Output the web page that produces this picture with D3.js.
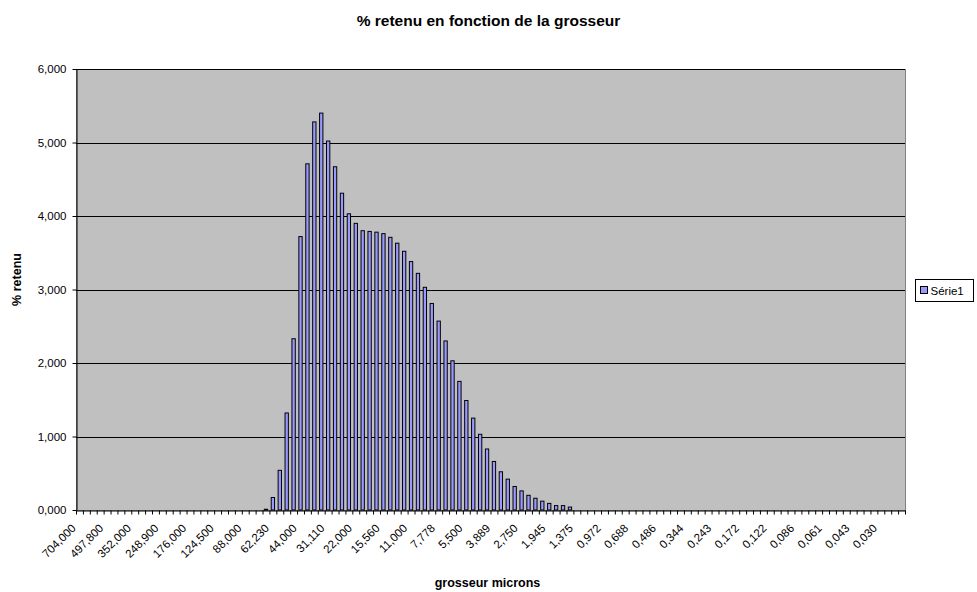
<!DOCTYPE html>
<html>
<head>
<meta charset="utf-8">
<script src="https://cdn.jsdelivr.net/npm/d3@7"></script>
<style>
  body { margin: 0; background: #fff; }
  svg { display: block; font-family: "Liberation Sans", Arial, sans-serif; }
</style>
</head>
<body>
<div id="chart"></div>
<script>
// grain sizes (microns), one per class
const sizes = [
  "704,000", "645,600", "592,000", "542,900", "497,800", "456,500", "418,600", "383,900",
  "352,000", "322,800", "296,000", "271,400", "248,900", "228,200", "209,300", "191,900",
  "176,000", "161,400", "148,000", "135,700", "124,500", "114,100", "104,700", "95,960",
  "88,000", "80,700", "74,000", "67,860", "62,230", "57,060", "52,330", "47,980",
  "44,000", "40,350", "37,000", "33,930", "31,110", "28,530", "26,160", "23,990",
  "22,000", "20,170", "18,500", "16,960", "15,560", "14,270", "13,080", "12,000",
  "11,000", "10,090", "9,250", "8,482", "7,778", "7,133", "6,541", "5,998",
  "5,500", "5,044", "4,625", "4,241", "3,889", "3,566", "3,270", "2,999",
  "2,750", "2,522", "2,312", "2,121", "1,945", "1,783", "1,635", "1,499",
  "1,375", "1,261", "1,156", "1,060", "0,972", "0,892", "0,818", "0,750",
  "0,688", "0,630", "0,578", "0,530", "0,486", "0,446", "0,409", "0,375",
  "0,344", "0,315", "0,289", "0,265", "0,243", "0,223", "0,204", "0,187",
  "0,172", "0,158", "0,145", "0,133", "0,122", "0,111", "0,102", "0,094",
  "0,086", "0,079", "0,072", "0,066", "0,061", "0,056", "0,051", "0,047",
  "0,043", "0,039", "0,036", "0,033", "0,030", "0,028", "0,026", "0,023"
];

// Série1 : % retenu
const retenu = [
  0, 0, 0, 0, 0, 0, 0, 0,
  0, 0, 0, 0, 0, 0, 0, 0,
  0, 0, 0, 0, 0, 0, 0, 0,
  0, 0, 0, 0.01, 0.17, 0.54, 1.32, 2.33,
  3.72, 4.71, 5.28, 5.40, 5.02, 4.67, 4.31, 4.03,
  3.90, 3.80, 3.79, 3.78, 3.76, 3.71, 3.63, 3.52,
  3.38, 3.22, 3.03, 2.81, 2.57, 2.30, 2.03, 1.75,
  1.49, 1.25, 1.03, 0.83, 0.66, 0.52, 0.42, 0.32,
  0.26, 0.20, 0.16, 0.12, 0.09, 0.06, 0.06, 0.04,
  0, 0, 0, 0, 0, 0, 0, 0,
  0, 0, 0, 0, 0, 0, 0, 0,
  0, 0, 0, 0, 0, 0, 0, 0,
  0, 0, 0, 0, 0, 0, 0, 0,
  0, 0, 0, 0, 0, 0, 0, 0,
  0, 0, 0, 0, 0, 0, 0, 0
];

const yTicks = [0, 1, 2, 3, 4, 5, 6];
const labelEvery = 4;

const w = 977, h = 592;
const m = {l: 76, r: 905, t: 69, b: 510};

const data = sizes.map((s, i) => ({size: s, value: retenu[i], i}));
const fmt = d => d3.format(".3f")(d).replace(".", ",");

const svg = d3.select("#chart").append("svg").attr("width", w).attr("height", h);

const x = d3.scaleBand()
  .domain(d3.range(sizes.length))
  .range([m.l, m.r])
  .paddingInner(0.52)
  .paddingOuter(0.26);
const xEdges = d3.scaleLinear().domain([0, sizes.length]).range([m.l, m.r]);
const y = d3.scaleLinear().domain([0, 6]).range([m.b, m.t]);

// plot area
svg.append("rect")
  .attr("x", m.l).attr("y", m.t)
  .attr("width", m.r - m.l).attr("height", m.b - m.t)
  .attr("fill", "#c0c0c0")
  .attr("stroke", "#808080")
  .attr("shape-rendering", "crispEdges");

svg.append("g")
  .selectAll("line")
  .data(yTicks.filter(d => d > 0))
  .join("line")
  .attr("x1", m.l).attr("x2", m.r)
  .attr("y1", d => Math.round(y(d)) + 0.5).attr("y2", d => Math.round(y(d)) + 0.5)
  .attr("stroke", "#000");

svg.append("g")
  .selectAll("rect")
  .data(data)
  .join("rect")
  .attr("x", d => x(d.i))
  .attr("width", x.bandwidth())
  .attr("y", d => y(d.value))
  .attr("height", d => y(0) - y(d.value))
  .attr("fill", "#9999ff")
  .attr("stroke", "#000")
  .attr("stroke-width", 1);

// axes
const gx = svg.append("g")
  .attr("transform", `translate(0,${Math.round(y(0)) + 0.5})`)
  .call(d3.axisBottom(xEdges).tickValues(d3.range(sizes.length + 1)).tickFormat("").tickSize(4).tickSizeOuter(0));
gx.select(".domain").attr("stroke", "#000");

const gy = svg.append("g")
  .attr("transform", `translate(${m.l + 0.5},0)`)
  .call(d3.axisLeft(y).tickValues(yTicks).tickFormat(fmt).tickSize(4).tickSizeOuter(0).tickPadding(6));
gy.selectAll("text").attr("font-size", "11.5px").attr("font-family", "Liberation Sans, Arial, sans-serif").attr("fill", "#000");

svg.append("g")
  .selectAll("text")
  .data(data.filter(d => d.i % labelEvery === 0))
  .join("text")
  .attr("transform", d => `translate(${x(d.i) + x.bandwidth() / 2 - 3},${m.b + 19}) rotate(-45)`)
  .attr("text-anchor", "end")
  .attr("font-size", "11.5px")
  .text(d => d.size);

// titles
svg.append("text")
  .attr("x", (m.l + m.r) / 2 - 2)
  .attr("y", 26)
  .attr("text-anchor", "middle")
  .attr("font-weight", "bold")
  .attr("font-size", "15.5px")
  .text("% retenu en fonction de la grosseur");

svg.append("text")
  .attr("x", (m.l + m.r) / 2 - 3)
  .attr("y", 587)
  .attr("text-anchor", "middle")
  .attr("font-weight", "bold")
  .attr("font-size", "12.5px")
  .text("grosseur microns");

svg.append("text")
  .attr("transform", `translate(21,${(m.t + m.b) / 2 - 10}) rotate(-90)`)
  .attr("text-anchor", "middle")
  .attr("font-weight", "bold")
  .attr("font-size", "12.5px")
  .text("% retenu");

// legend
const lg = svg.append("g").attr("transform", "translate(915.5,279.5)");
lg.append("rect").attr("width", 58).attr("height", 22).attr("fill", "#fff").attr("stroke", "#000");
lg.append("rect").attr("x", 5).attr("y", 7).attr("width", 7).attr("height", 7)
  .attr("fill", "#9999ff").attr("stroke", "#000");
lg.append("text").attr("x", 15).attr("y", 15).attr("font-size", "11.5px").text("Série1");
</script>
</body>
</html>
